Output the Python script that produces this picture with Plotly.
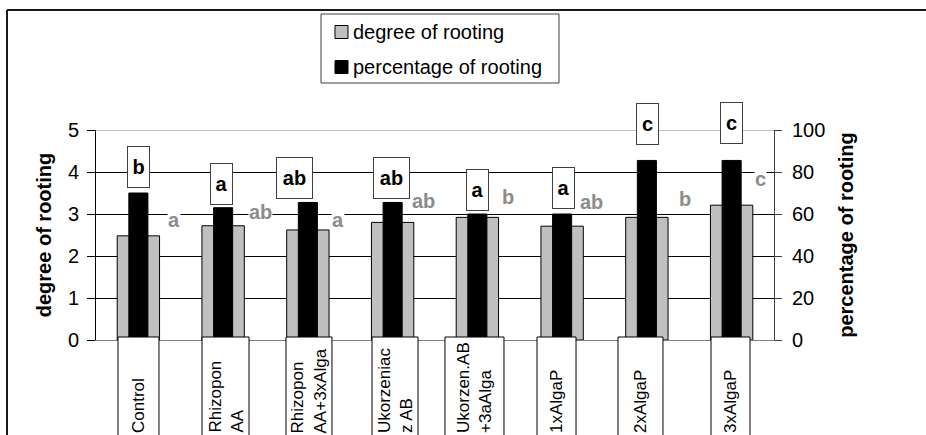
import plotly.graph_objects as go

# ---------------- data ----------------
categories = ["Control", "Rhizopon<br>AA", "Rhizopon<br>AA+3xAlga", "Ukorzeniac<br>z AB",
              "Ukorzen.AB<br>+3aAlga", "1xAlgaP", "2xAlgaP", "3xAlgaP"]
degree_of_rooting = [2.48, 2.72, 2.62, 2.80, 2.92, 2.71, 2.92, 3.21]
percentage_of_rooting = [70, 63, 65.5, 65.5, 60, 60, 85.5, 85.5]
letters_percentage = ["b", "a", "ab", "ab", "a", "a", "c", "c"]
letters_degree = ["a", "ab", "a", "ab", "b", "ab", "b", "c"]
series_names = ["degree of rooting", "percentage of rooting"]
left_ticks = [0, 1, 2, 3, 4, 5]
right_ticks = [0, 20, 40, 60, 80, 100]

# ---------------- styling ----------------
FONT = "Arial, Liberation Sans, sans-serif"
series_colors = ["#c0c0c0", "#000000"]
# label placement (pixel offsets, styling only)
pct_box_dx = [0, -1.5, -13.5, -1, 0.5, 1, 0.5, 0]
pct_box_dy = [26, 24, 24, 24, 24, 26, 36, 37]
deg_lab_dx = [35.6, 36.9, 30.1, 30.4, 30.6, 28.9, 38.1, 28.4]
deg_lab_dy = [15.8, 13.5, 10.4, 21.7, 20.4, 24.2, 18.4, 26.2]
cat_box_dx = [0.1, 2.4, 1.1, 2.4, -2.9, -5.6, -6.4, -1.1]
cat_box_w = [41, 47, 46, 46, 59, 39, 45, 39]

W, H = 926, 435
ML, MR, MT, MB = 96, 152, 130, 95
PW, PH = W - ML - MR, H - MT - MB


def px_x(px):
    return (px - ML) / PW


def px_y(py):
    return (H - MB - py) / PH


xs = list(range(len(categories)))

fig = go.Figure()
fig.add_trace(go.Bar(
    x=xs, y=degree_of_rooting, name=series_names[0], width=0.5,
    marker=dict(color=series_colors[0], line=dict(color="#000000", width=1)),
    yaxis="y", showlegend=False))
fig.add_trace(go.Bar(
    x=xs, y=percentage_of_rooting, name=series_names[1], width=0.225,
    marker=dict(color=series_colors[1], line=dict(color="#000000", width=1)),
    yaxis="y2", showlegend=False))

annotations = []
shapes = []

# black-letter boxes (percentage)
for i, (v, t) in enumerate(zip(percentage_of_rooting, letters_percentage)):
    annotations.append(dict(
        x=xs[i], y=v, xref="x", yref="y2", text=t, showarrow=False,
        xanchor="center", yanchor="middle", xshift=pct_box_dx[i], yshift=pct_box_dy[i],
        width=21 if len(t) == 1 else 35, height=40,
        bgcolor="white", bordercolor="#404040", borderwidth=1, borderpad=0,
        font=dict(family=FONT, size=20, color="black", weight="bold")))

# grey letters (degree)
for i, (v, t) in enumerate(zip(degree_of_rooting, letters_degree)):
    annotations.append(dict(
        x=xs[i], y=v, xref="x", yref="y", text=t, showarrow=False,
        xanchor="center", yanchor="middle", xshift=deg_lab_dx[i], yshift=deg_lab_dy[i],
        bgcolor="white", borderpad=0,
        font=dict(family=FONT, size=20, color="#8c8c8c", weight="bold")))

# category label boxes + rotated text
for i, c in enumerate(categories):
    shapes.append(dict(
        type="rect", xref="x", yref="paper", xsizemode="pixel", xanchor=xs[i],
        x0=cat_box_dx[i] - cat_box_w[i] / 2, x1=cat_box_dx[i] + cat_box_w[i] / 2,
        y0=px_y(337), y1=px_y(470), fillcolor="white",
        line=dict(color="#000000", width=1), layer="above"))
    annotations.append(dict(
        x=xs[i], y=px_y(434), xref="x", yref="paper", text=c, showarrow=False,
        xanchor="center", yanchor="bottom", xshift=cat_box_dx[i], textangle=-90,
        align="left", borderpad=0,
        font=dict(family=FONT, size=17, color="black")))

# grey top line at 5 / 100
shapes.append(dict(type="line", xref="paper", yref="y", x0=0, x1=1, y0=5, y1=5,
                   line=dict(color="#808080", width=1), layer="above"))
# outer chart frame (top and left edges visible, others run off the picture)
shapes.append(dict(type="line", xref="paper", yref="paper",
                   x0=px_x(7), x1=px_x(W + 5), y0=px_y(10), y1=px_y(10),
                   line=dict(color="#1a1a1a", width=2), layer="above"))
shapes.append(dict(type="line", xref="paper", yref="paper",
                   x0=px_x(7), x1=px_x(7), y0=px_y(10), y1=px_y(H + 5),
                   line=dict(color="#1a1a1a", width=2), layer="above"))

# legend (box, swatches, entries)
shapes.append(dict(type="rect", xref="paper", yref="paper",
                   x0=px_x(321), x1=px_x(559), y0=px_y(83), y1=px_y(14),
                   line=dict(color="#404040", width=1), fillcolor="white", layer="above"))
legend_rows = [32, 67]
for name, col, row in zip(series_names, series_colors, legend_rows):
    shapes.append(dict(type="rect", xref="paper", yref="paper",
                       x0=px_x(335), x1=px_x(348), y0=px_y(row + 6.5), y1=px_y(row - 6.5),
                       line=dict(color="#000000", width=1), fillcolor=col, layer="above"))
    annotations.append(dict(
        x=px_x(352), y=px_y(row), xref="paper", yref="paper", text=name,
        showarrow=False, xanchor="left", yanchor="middle", borderpad=0,
        font=dict(family=FONT, size=20, color="black")))

fig.update_layout(
    width=W, height=H,
    margin=dict(l=ML, r=MR, t=MT, b=MB, autoexpand=False),
    paper_bgcolor="white", plot_bgcolor="white",
    barmode="overlay",
    font=dict(family=FONT, size=20, color="black"),
    showlegend=False,
    xaxis=dict(range=[-0.5, len(categories) - 0.5], showticklabels=False, ticks="",
               showgrid=False, zeroline=False, showline=True, linecolor="#808080",
               linewidth=1, fixedrange=True),
    yaxis=dict(range=[0, 5], tickvals=left_ticks, ticks="outside", ticklen=8,
               tickcolor="black", showline=True, linecolor="black", linewidth=1,
               showgrid=True, gridcolor="black", gridwidth=1, zeroline=False,
               tickfont=dict(family=FONT, size=20), ticklabelstandoff=4,
               title=dict(text="degree of rooting", standoff=10,
                          font=dict(family=FONT, size=20, weight="bold"))),
    yaxis2=dict(range=[0, 100], tickvals=right_ticks, overlaying="y", side="right",
                ticks="outside", ticklen=7, tickcolor="#404040", showline=True,
                linecolor="#404040", linewidth=1, showgrid=False, zeroline=False,
                tickfont=dict(family=FONT, size=20), ticklabelstandoff=6,
                title=dict(text="percentage of rooting", standoff=14,
                           font=dict(family=FONT, size=20, weight="bold"))),
    annotations=annotations, shapes=shapes,
)

fig.write_html(
    "out.html",
    config={"displayModeBar": False, "staticPlot": True},
    post_script=("document.documentElement.style.overflow='hidden';"
                 "document.body.style.margin='0';document.body.style.overflow='hidden';"),
)
